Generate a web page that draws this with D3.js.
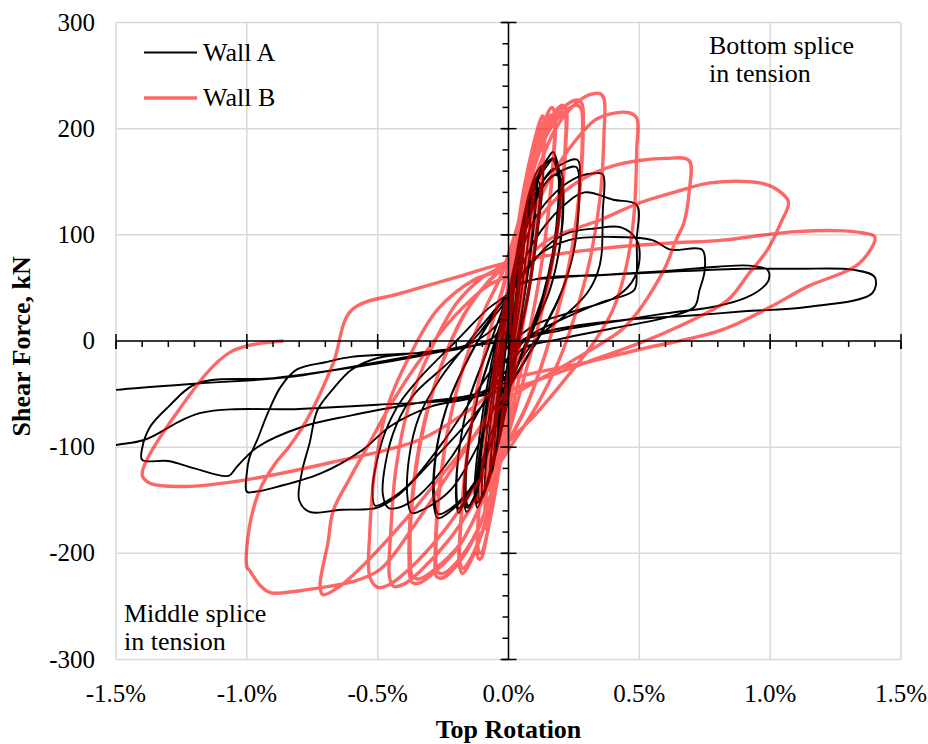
<!DOCTYPE html>
<html>
<head>
<meta charset="utf-8">
<script src="https://d3js.org/d3.v7.min.js"></script>
<style>
  body { margin: 0; background: #fff; }
  text { font-family: "Liberation Serif", "Times New Roman", serif; fill: #000; }
</style>
</head>
<body>
<svg width="928" height="744"></svg>
<script>

// tick values
var rotTicks = [-1.5, -1.0, -0.5, 0.0, 0.5, 1.0, 1.5];
var forceTicks = [-300, -200, -100, 0, 100, 200, 300];

// Wall A cycles, [top rotation %, shear force kN]
var wallA_0a = [[0,0],[0.01,25],[0.025,55],[0.035,70],[0.033,55],[0.02,25],[0.005,-5],[-0.012,-35],[-0.028,-65],[-0.035,-75],[-0.03,-55],[-0.018,-25],[-0.005,5]];
var wallA_0b = [[0.02,50],[0.045,90],[0.065,115],[0.07,118],[0.062,95],[0.045,55],[0.025,15],[0.005,-20],[-0.02,-60],[-0.045,-100],[-0.065,-125],[-0.07,-122],[-0.06,-90],[-0.04,-45],[-0.015,0],[0,20]];
var wallA_0c = [[0.022,52],[0.047,92],[0.067,112],[0.07,114],[0.06,92],[0.043,52],[0.022,12],[0.003,-23],[-0.022,-63],[-0.047,-103],[-0.066,-122],[-0.069,-118],[-0.058,-86],[-0.038,-42],[-0.013,3],[0,0]];
var wallA_0d = [[0.015,40],[0.035,80],[0.05,100],[0.055,102],[0.05,85],[0.035,50],[0.015,10],[-0.005,-28],[-0.025,-65],[-0.045,-98],[-0.055,-108],[-0.052,-90],[-0.038,-55],[-0.02,-15],[0,15]];
var wallA_0e = [[0.025,62],[0.055,105],[0.08,128],[0.088,132],[0.082,110],[0.062,70],[0.038,25],[0.012,-15],[-0.015,-55],[-0.045,-100],[-0.075,-132],[-0.09,-140],[-0.088,-122],[-0.07,-80],[-0.045,-35],[-0.018,8],[0,30]];
var wallA_0f = [[0.03,75],[0.07,125],[0.1,150],[0.11,155],[0.105,135],[0.085,90],[0.058,40],[0.028,-5],[-0.005,-48],[-0.04,-95],[-0.08,-135],[-0.1,-148],[-0.1,-128],[-0.08,-82],[-0.05,-30],[-0.02,15],[0,35]];
var wallA_0g = [[0.04,95],[0.08,140],[0.11,160],[0.13,165],[0.13,145],[0.11,100],[0.08,48],[0.045,5],[0.01,-40],[-0.03,-88],[-0.075,-130],[-0.11,-152],[-0.115,-135],[-0.095,-88],[-0.06,-35],[-0.025,12],[0,0]];
var wallA_1 = [[0.02,45],[0.04,85],[0.05,100],[0.045,80],[0.025,35],[0.01,0],[-0.01,-40],[-0.03,-80],[-0.045,-100],[-0.04,-80],[-0.025,-40],[-0.01,0],[0.005,30]];
var wallA_2 = [[0.03,70],[0.06,110],[0.09,135],[0.105,140],[0.1,115],[0.075,65],[0.05,25],[0.02,-15],[-0.01,-55],[-0.05,-100],[-0.09,-140],[-0.12,-157],[-0.125,-145],[-0.105,-95],[-0.075,-45],[-0.04,0],[-0.01,35]];
var wallA_2b = [[0.03,68],[0.06,106],[0.09,130],[0.103,134],[0.098,110],[0.073,62],[0.048,22],[0.018,-18],[-0.012,-58],[-0.052,-102],[-0.092,-140],[-0.118,-152],[-0.123,-140],[-0.103,-92],[-0.073,-42],[-0.038,2],[-0.01,35]];
var wallA_2c = [[0.03,72],[0.065,115],[0.095,142],[0.115,150],[0.12,140],[0.105,100],[0.08,55],[0.05,15],[0.015,-25],[-0.02,-70],[-0.06,-115],[-0.1,-145],[-0.125,-153],[-0.13,-140],[-0.112,-92],[-0.08,-40],[-0.045,2],[-0.01,35]];
var wallA_3 = [[0.03,80],[0.08,130],[0.12,160],[0.15,172],[0.17,178],[0.19,165],[0.2,140],[0.18,90],[0.14,45],[0.09,10],[0.03,-25],[-0.03,-65],[-0.09,-115],[-0.13,-148],[-0.16,-161],[-0.17,-150],[-0.155,-100],[-0.12,-55],[-0.07,-15],[-0.02,25]];
var wallA_3b = [[0.03,78],[0.08,126],[0.12,155],[0.15,166],[0.168,171],[0.186,160],[0.196,136],[0.177,87],[0.138,43],[0.088,8],[0.028,-27],[-0.032,-67],[-0.092,-116],[-0.132,-147],[-0.158,-157],[-0.168,-147],[-0.153,-97],[-0.118,-53],[-0.068,-13],[-0.02,25]];
var wallA_3c = [[0.035,82],[0.085,132],[0.125,160],[0.155,170],[0.175,172],[0.19,160],[0.19,130],[0.17,85],[0.13,42],[0.08,8],[0.025,-28],[-0.035,-70],[-0.095,-118],[-0.135,-150],[-0.155,-155],[-0.163,-143],[-0.15,-95],[-0.115,-50],[-0.065,-10],[-0.02,25]];
var wallA_4 = [[0.02,60],[0.07,110],[0.12,145],[0.17,162],[0.2,160],[0.21,140],[0.2,95],[0.16,50],[0.1,15],[0.04,-20],[-0.03,-60],[-0.09,-105],[-0.14,-140],[-0.18,-158],[-0.19,-162],[-0.2,-150],[-0.19,-105],[-0.15,-55],[-0.09,-15],[-0.03,25]];
var wallA_4b = [[0.02,58],[0.07,107],[0.12,140],[0.17,156],[0.198,154],[0.207,135],[0.197,92],[0.158,48],[0.098,13],[0.038,-22],[-0.032,-62],[-0.092,-106],[-0.142,-140],[-0.18,-155],[-0.19,-158],[-0.198,-147],[-0.188,-102],[-0.148,-53],[-0.088,-13],[-0.03,25]];
var wallA_5 = [[0.02,65],[0.07,115],[0.13,150],[0.2,166],[0.26,171],[0.27,168],[0.27,130],[0.25,85],[0.2,45],[0.14,15],[0.07,-15],[0,-45],[-0.06,-90],[-0.13,-135],[-0.22,-160],[-0.27,-167],[-0.285,-155],[-0.28,-110],[-0.24,-65],[-0.17,-25],[-0.08,15],[-0.02,35]];
var wallA_5b = [[0.02,62],[0.07,110],[0.13,145],[0.2,160],[0.258,164],[0.267,160],[0.267,125],[0.247,82],[0.198,43],[0.138,13],[0.068,-17],[-0.002,-47],[-0.062,-91],[-0.132,-134],[-0.222,-158],[-0.268,-163],[-0.282,-151],[-0.277,-107],[-0.237,-63],[-0.168,-23],[-0.078,16],[-0.02,35]];
var wallA_6 = [[0.03,70],[0.1,115],[0.18,140],[0.27,155],[0.33,158],[0.36,157],[0.36,120],[0.355,80],[0.34,64],[0.3,45],[0.22,25],[0.12,5],[0.04,-20],[-0.04,-55],[-0.12,-100],[-0.22,-140],[-0.32,-158],[-0.37,-162],[-0.385,-150],[-0.38,-110],[-0.34,-70],[-0.26,-35],[-0.15,0],[-0.05,30]];
var wallA_7 = [[0,45],[0.1,95],[0.2,125],[0.29,140],[0.4,133],[0.49,128],[0.49,95],[0.49,64],[0.48,48],[0.35,36],[0.2,20],[0.08,5],[0,-15],[-0.1,-60],[-0.22,-110],[-0.34,-145],[-0.42,-157],[-0.46,-157],[-0.48,-145],[-0.47,-115],[-0.43,-80],[-0.36,-50],[-0.25,-25],[-0.12,5],[-0.03,35]];
var wallA_8 = [[0.05,60],[0.15,90],[0.23,102],[0.33,106],[0.43,107],[0.49,95],[0.5,75],[0.47,55],[0.4,40],[0.25,28],[0.1,15],[0,-5],[-0.1,-40],[-0.25,-95],[-0.38,-135],[-0.46,-150],[-0.51,-155],[-0.52,-140],[-0.5,-110],[-0.47,-85],[-0.42,-60],[-0.34,-35],[-0.2,0],[-0.08,30],[0,45]];
var wallA_9 = [[0.1,78],[0.23,95],[0.4,98],[0.55,95],[0.62,86],[0.74,86],[0.75,67],[0.73,48],[0.71,32],[0.6,22],[0.4,12],[0.2,2],[0.05,-8],[0,-30],[-0.15,-75],[-0.3,-115],[-0.42,-145],[-0.5,-157],[-0.64,-159],[-0.76,-161],[-0.8,-150],[-0.79,-124],[-0.76,-96],[-0.73,-65],[-0.67,-45],[-0.6,-27],[-0.5,-16],[-0.34,-11],[-0.15,-3],[-0.03,20],[0,45]];
var wallA_10 = [[0.05,55],[0.2,60],[0.4,63],[0.6,66],[0.8,70],[0.92,71],[0.99,67],[0.995,58],[0.97,50],[0.91,41],[0.8,33],[0.6,26],[0.4,18],[0.2,10],[0.06,0],[0,-25],[-0.1,-50],[-0.3,-62],[-0.45,-80],[-0.56,-103],[-0.72,-125],[-0.91,-139],[-0.97,-142],[-1.0,-142],[-1.0,-124],[-0.99,-110],[-0.96,-93],[-0.92,-68],[-0.87,-43],[-0.81,-27],[-0.7,-20],[-0.6,-15],[-0.4,-12],[-0.2,-8],[-0.05,5],[0,45]];
var wallA_11 = [[0.1,58],[0.35,62],[0.6,65],[0.9,68],[1.1,68],[1.32,67],[1.4,60],[1.39,45],[1.14,32],[0.9,28],[0.7,24],[0.45,20],[0.2,12],[0.05,0],[0,-30],[-0.1,-48],[-0.34,-58],[-0.6,-70],[-0.79,-81],[-0.96,-100],[-1.04,-119],[-1.07,-127],[-1.2,-120],[-1.3,-113],[-1.4,-112],[-1.4,-101],[-1.37,-81],[-1.3,-62],[-1.19,-40],[-0.9,-35],[-0.6,-25],[-0.3,-12],[-0.05,5],[0,40]];
var wallA_12 = [[0,-40],[-0.2,-55],[-0.5,-60],[-0.8,-64],[-1.18,-68],[-1.39,-93],[-1.5,-98],[-1.65,-105],[-1.65,-50],[-1.5,-46],[-1.19,-40],[-0.84,-34],[-0.41,-16],[-0.15,-5],[0,0]];

// Wall B cycles, [top rotation %, shear force kN]
var wallB_1 = [[0,0],[0.015,40],[0.035,85],[0.05,110],[0.055,104],[0.045,70],[0.025,25],[0.01,-10],[-0.015,-55],[-0.035,-95],[-0.05,-118],[-0.056,-110],[-0.045,-70],[-0.025,-20],[-0.005,25]];
var wallB_1b = [[0.015,45],[0.04,95],[0.06,125],[0.068,132],[0.07,125],[0.058,88],[0.038,40],[0.018,0],[-0.005,-40],[-0.03,-90],[-0.055,-130],[-0.068,-142],[-0.072,-135],[-0.06,-90],[-0.035,-30],[-0.012,15],[-0.005,25]];
var wallB_2 = [[0.02,70],[0.05,118],[0.08,155],[0.09,165],[0.095,155],[0.085,115],[0.06,60],[0.035,15],[0.015,-25],[-0.015,-75],[-0.045,-125],[-0.07,-160],[-0.085,-175],[-0.09,-165],[-0.08,-120],[-0.055,-55],[-0.03,0],[-0.005,40]];
var wallB_2b = [[0.02,72],[0.05,115],[0.08,150],[0.09,158],[0.094,148],[0.082,108],[0.058,55],[0.033,12],[0.012,-28],[-0.018,-80],[-0.048,-128],[-0.072,-158],[-0.086,-170],[-0.09,-160],[-0.078,-115],[-0.052,-50],[-0.028,2],[-0.005,42]];
var wallB_2c = [[0.02,75],[0.05,120],[0.078,152],[0.092,162],[0.097,152],[0.087,112],[0.062,57],[0.037,12],[0.017,-28],[-0.013,-78],[-0.043,-128],[-0.068,-162],[-0.082,-178],[-0.088,-168],[-0.078,-118],[-0.053,-52],[-0.028,3],[-0.005,40]];
var wallB_3 = [[0.025,90],[0.06,145],[0.095,185],[0.12,207],[0.13,212],[0.138,205],[0.135,175],[0.115,120],[0.085,60],[0.055,15],[0.025,-30],[-0.01,-80],[-0.045,-135],[-0.08,-180],[-0.105,-205],[-0.115,-205],[-0.118,-180],[-0.1,-120],[-0.07,-55],[-0.035,5],[-0.005,45]];
var wallB_3b = [[0.025,88],[0.06,140],[0.095,180],[0.12,200],[0.128,205],[0.135,198],[0.132,170],[0.112,115],[0.083,57],[0.053,12],[0.022,-33],[-0.013,-84],[-0.048,-138],[-0.082,-182],[-0.105,-200],[-0.114,-198],[-0.116,-175],[-0.098,-115],[-0.068,-52],[-0.033,8],[-0.005,47]];
var wallB_4 = [[0.03,95],[0.07,150],[0.11,190],[0.145,212],[0.165,220],[0.178,214],[0.175,180],[0.15,115],[0.115,55],[0.08,10],[0.04,-35],[0,-80],[-0.05,-135],[-0.1,-180],[-0.15,-210],[-0.175,-219],[-0.188,-212],[-0.185,-180],[-0.16,-110],[-0.12,-45],[-0.07,10],[-0.02,50]];
var wallB_4b = [[0.03,93],[0.07,147],[0.11,185],[0.145,207],[0.163,213],[0.175,208],[0.172,176],[0.148,112],[0.113,52],[0.078,8],[0.038,-38],[-0.003,-83],[-0.053,-137],[-0.103,-181],[-0.152,-208],[-0.175,-214],[-0.186,-207],[-0.183,-176],[-0.158,-107],[-0.118,-43],[-0.068,12],[-0.02,52]];
var wallB_5 = [[0.03,100],[0.08,155],[0.13,195],[0.175,215],[0.205,222],[0.22,218],[0.22,190],[0.2,130],[0.165,70],[0.12,20],[0.07,-25],[0.02,-70],[-0.05,-130],[-0.12,-180],[-0.2,-212],[-0.25,-223],[-0.275,-222],[-0.28,-200],[-0.265,-140],[-0.225,-75],[-0.16,-15],[-0.09,30],[-0.03,60]];
var wallB_5b = [[0.03,98],[0.08,152],[0.13,190],[0.175,210],[0.203,216],[0.217,212],[0.217,185],[0.198,127],[0.163,68],[0.118,18],[0.068,-27],[0.018,-72],[-0.052,-132],[-0.122,-180],[-0.2,-209],[-0.25,-219],[-0.272,-217],[-0.277,-196],[-0.262,-137],[-0.222,-72],[-0.158,-13],[-0.088,31],[-0.03,61]];
var wallB_6 = [[0.03,105],[0.09,160],[0.15,200],[0.21,220],[0.26,227],[0.28,224],[0.285,195],[0.27,135],[0.235,75],[0.185,25],[0.13,-20],[0.07,-60],[0,-95],[-0.09,-145],[-0.18,-190],[-0.27,-215],[-0.34,-228],[-0.37,-227],[-0.38,-205],[-0.37,-150],[-0.33,-85],[-0.26,-25],[-0.17,25],[-0.08,55],[-0.02,70]];
var wallB_6b = [[0.03,103],[0.09,157],[0.15,196],[0.21,215],[0.258,222],[0.277,219],[0.282,191],[0.267,132],[0.232,73],[0.182,23],[0.128,-22],[0.068,-62],[-0.002,-97],[-0.092,-147],[-0.182,-190],[-0.272,-213],[-0.34,-224],[-0.366,-222],[-0.376,-201],[-0.366,-147],[-0.326,-83],[-0.256,-23],[-0.166,26],[-0.078,56],[-0.02,70]];
var wallB_7 = [[0.04,110],[0.11,160],[0.18,200],[0.25,222],[0.31,232],[0.35,233],[0.365,228],[0.365,195],[0.35,135],[0.31,75],[0.255,25],[0.19,-20],[0.11,-60],[0.02,-95],[-0.1,-140],[-0.22,-185],[-0.33,-215],[-0.4,-229],[-0.44,-231],[-0.455,-222],[-0.45,-180],[-0.43,-120],[-0.38,-60],[-0.3,-10],[-0.2,35],[-0.1,60],[-0.02,72]];
var wallB_8 = [[0.08,115],[0.17,158],[0.26,190],[0.33,208],[0.39,214],[0.46,215],[0.49,210],[0.49,180],[0.48,120],[0.45,70],[0.4,30],[0.33,0],[0.22,-35],[0.1,-70],[0,-95],[-0.12,-135],[-0.25,-180],[-0.38,-215],[-0.46,-230],[-0.5,-232],[-0.53,-222],[-0.53,-180],[-0.51,-120],[-0.46,-60],[-0.38,-15],[-0.27,30],[-0.13,58],[0,70]];
var wallB_9 = [[0.1,110],[0.2,138],[0.3,155],[0.4,165],[0.5,170],[0.6,172],[0.69,170],[0.69,140],[0.67,111],[0.64,95],[0.6,70],[0.55,48],[0.49,26],[0.43,10],[0.35,-3],[0.2,-25],[0,-55],[-0.2,-110],[-0.4,-170],[-0.55,-210],[-0.65,-232],[-0.71,-239],[-0.72,-230],[-0.69,-190],[-0.67,-160],[-0.61,-131],[-0.54,-100],[-0.45,-60],[-0.33,-15],[-0.2,25],[-0.08,52],[0,62]];
var wallB_10 = [[0.15,95],[0.35,114],[0.5,130],[0.66,142],[0.77,149],[0.96,149],[1.03,142],[1.07,131],[1.04,111],[0.99,86],[0.92,64],[0.84,39],[0.73,23],[0.6,8],[0.5,-2],[0.3,-20],[0.1,-38],[0,-48],[-0.2,-115],[-0.35,-170],[-0.49,-215],[-0.6,-227],[-0.71,-232],[-0.82,-236],[-0.91,-237],[-0.95,-230],[-0.99,-216],[-1.0,-213],[-0.99,-175],[-0.95,-140],[-0.89,-115],[-0.84,-100],[-0.77,-74],[-0.67,-21],[-0.6,29],[-0.41,45],[-0.2,60],[0,74]];
var wallB_11 = [[0.35,87],[0.6,92],[0.82,95],[0.98,100],[1.1,103],[1.25,104],[1.35,102],[1.4,98],[1.34,73],[1.14,51],[1.0,32],[0.81,10],[0.5,-8],[0.3,-20],[0.1,-30],[0,-37],[-0.15,-65],[-0.34,-93],[-0.67,-114],[-1.01,-131],[-1.24,-137],[-1.37,-134],[-1.4,-126],[-1.26,-65],[-1.06,-10],[-0.86,0]];

var wallA = [].concat(wallA_0a, wallA_0b, wallA_0c, wallA_0d, wallA_0e, wallA_0f, wallA_0g,
    wallA_1, wallA_2, wallA_2b, wallA_2c, wallA_3, wallA_3b, wallA_3c,
    wallA_4, wallA_4b, wallA_5, wallA_5b, wallA_6, wallA_7, wallA_8, wallA_9, wallA_10, wallA_11, wallA_12);
var wallB = [].concat(wallB_1, wallB_1b, wallB_2, wallB_2b, wallB_2c, wallB_3, wallB_3b, wallB_4, wallB_4b, wallB_5, wallB_5b,
    wallB_6, wallB_6b, wallB_7, wallB_8, wallB_9, wallB_10, wallB_11);

var svg = d3.select("svg"),
    margin = {top: 22.5, right: 27, bottom: 84.5, left: 116},
    width = +svg.attr("width"),
    height = +svg.attr("height");

var x = d3.scaleLinear()
    .domain([-1.5, 1.5])
    .range([margin.left, width - margin.right]);

var y = d3.scaleLinear()
    .domain([-300, 300])
    .range([height - margin.bottom, margin.top]);

function fmt(v, digits) {
  return (v < 0 ? "-" : "") + Math.abs(v).toFixed(digits);
}

// gridlines
svg.append("g")
  .selectAll("line")
  .data(rotTicks)
  .enter().append("line")
    .attr("x1", function(d) { return x(d); })
    .attr("x2", function(d) { return x(d); })
    .attr("y1", y(-300))
    .attr("y2", y(300))
    .attr("stroke", "#d9d9d9")
    .attr("stroke-width", 1.5);

svg.append("g")
  .selectAll("line")
  .data(forceTicks)
  .enter().append("line")
    .attr("x1", x(-1.5))
    .attr("x2", x(1.5))
    .attr("y1", function(d) { return y(d); })
    .attr("y2", function(d) { return y(d); })
    .attr("stroke", "#d9d9d9")
    .attr("stroke-width", 1.5);

svg.append("clipPath")
    .attr("id", "plot")
  .append("rect")
    .attr("x", x(-1.5))
    .attr("y", y(300))
    .attr("width", x(1.5) - x(-1.5))
    .attr("height", y(-300) - y(300));

var line = d3.line()
    .curve(d3.curveCatmullRom.alpha(0.5))
    .x(function(d) { return x(d[0]); })
    .y(function(d) { return y(d[1]); });

svg.append("path")
    .datum(wallA)
    .attr("clip-path", "url(#plot)")
    .attr("d", line)
    .attr("fill", "none")
    .attr("stroke", "#000")
    .attr("stroke-width", 1.9)
    .attr("stroke-linejoin", "round");

svg.append("path")
    .datum(wallB)
    .attr("clip-path", "url(#plot)")
    .attr("d", line)
    .attr("fill", "none")
    .attr("stroke", "#ff0000")
    .attr("stroke-opacity", 0.6)
    .attr("stroke-width", 3.4)
    .attr("stroke-linejoin", "round");

// axes crossing at zero, with Excel style tick marks
var xAxis = svg.append("g");
xAxis.append("line")
    .attr("x1", x(-1.5)).attr("x2", x(1.5))
    .attr("y1", y(0)).attr("y2", y(0))
    .attr("stroke", "#000").attr("stroke-width", 1.5);
xAxis.selectAll(".minor")
  .data(d3.range(-15, 16).map(function(i) { return i / 10; }))
  .enter().append("line")
    .attr("x1", function(d) { return x(d); })
    .attr("x2", function(d) { return x(d); })
    .attr("y1", y(0))
    .attr("y2", function(d, i) { return y(0) + (i % 5 === 0 ? 8 : 6); })
    .attr("stroke", "#000").attr("stroke-width", 1.5);
xAxis.selectAll(".major")
  .data(rotTicks)
  .enter().append("line")
    .attr("x1", function(d) { return x(d); })
    .attr("x2", function(d) { return x(d); })
    .attr("y1", y(0) - 7)
    .attr("y2", y(0) + 8)
    .attr("stroke", "#000").attr("stroke-width", 1.5);

var yAxis = svg.append("g");
yAxis.append("line")
    .attr("x1", x(0)).attr("x2", x(0))
    .attr("y1", y(300)).attr("y2", y(-300))
    .attr("stroke", "#000").attr("stroke-width", 1.5);
yAxis.selectAll(".minor")
  .data(d3.range(-300, 301, 20))
  .enter().append("line")
    .attr("x1", x(0) - 6)
    .attr("x2", x(0))
    .attr("y1", function(d) { return y(d); })
    .attr("y2", function(d) { return y(d); })
    .attr("stroke", "#000").attr("stroke-width", 1.5);
yAxis.selectAll(".major")
  .data(forceTicks)
  .enter().append("line")
    .attr("x1", x(0) - 8)
    .attr("x2", x(0) + 8)
    .attr("y1", function(d) { return y(d); })
    .attr("y2", function(d) { return y(d); })
    .attr("stroke", "#000").attr("stroke-width", 1.5);

// tick labels sit at the plot edges
svg.append("g")
  .selectAll("text")
  .data(forceTicks)
  .enter().append("text")
    .attr("x", 95)
    .attr("y", function(d) { return y(d) + 8; })
    .attr("text-anchor", "end")
    .style("font-size", "25px")
    .text(function(d) { return fmt(d, 0); });

svg.append("g")
  .selectAll("text")
  .data(rotTicks)
  .enter().append("text")
    .attr("x", function(d) { return x(d); })
    .attr("y", 702)
    .attr("text-anchor", "middle")
    .style("font-size", "25px")
    .text(function(d) { return fmt(d, 1) + "%"; });

svg.append("text")
    .attr("x", x(0))
    .attr("y", 738)
    .attr("text-anchor", "middle")
    .style("font-size", "26px")
    .style("font-weight", "bold")
    .text("Top Rotation");

svg.append("text")
    .attr("transform", "translate(30," + y(-5) + ") rotate(-90)")
    .attr("text-anchor", "middle")
    .style("font-size", "26px")
    .style("font-weight", "bold")
    .text("Shear Force, kN");

// legend
var legend = [
  {name: "Wall A", color: "#000", width: 1.9, opacity: 1},
  {name: "Wall B", color: "#ff0000", width: 3.4, opacity: 0.6}
];
var lg = svg.append("g")
  .selectAll("g")
  .data(legend)
  .enter().append("g")
    .attr("transform", function(d, i) { return "translate(144," + (52.5 + i * 45.5) + ")"; });
lg.append("line")
    .attr("x1", 0).attr("x2", 53)
    .attr("stroke", function(d) { return d.color; })
    .attr("stroke-width", function(d) { return d.width; })
    .attr("stroke-opacity", function(d) { return d.opacity; });
lg.append("text")
    .attr("x", 59)
    .attr("y", 8)
    .style("font-size", "26px")
    .text(function(d) { return d.name; });

// annotations
var notes = [
  {x: 709, y: 54, lines: ["Bottom splice", "in tension"]},
  {x: 124, y: 622, lines: ["Middle splice", "in tension"]}
];
notes.forEach(function(n) {
  svg.append("text")
    .attr("x", n.x)
    .attr("y", n.y)
    .style("font-size", "26px")
    .selectAll("tspan")
    .data(n.lines)
    .enter().append("tspan")
      .attr("x", n.x)
      .attr("dy", function(d, i) { return i === 0 ? 0 : 28; })
      .text(function(d) { return d; });
});

</script>
</body>
</html>
